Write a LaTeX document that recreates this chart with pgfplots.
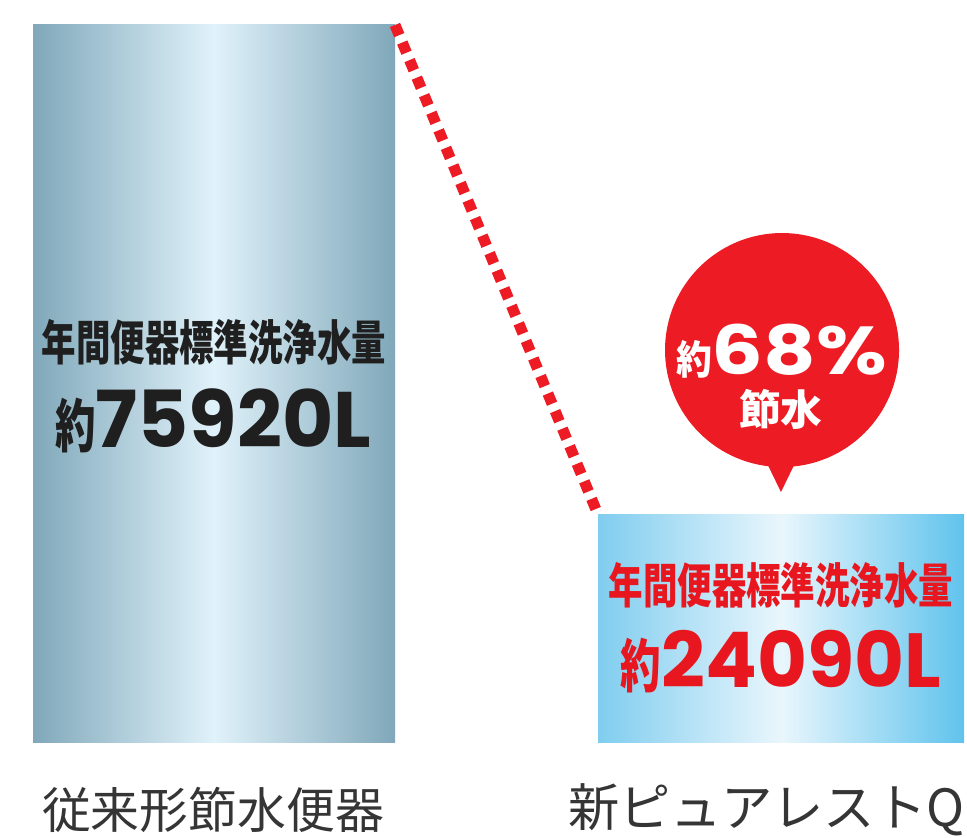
\documentclass[border=0pt]{standalone}
\usepackage{pgfplots}
\pgfplotsset{compat=1.18}
\usepackage{fontspec}
\newfontfamily\cjk{Noto Sans CJK JP}
\newfontfamily\num{Poppins}
\definecolor{grayedge}{HTML}{80A8BA}
\definecolor{graymid}{HTML}{E0F2FA}
\definecolor{blueedgeL}{HTML}{80CDEF}
\definecolor{blueedgeR}{HTML}{60C3ED}
\definecolor{bluemid}{HTML}{E9F6FC}
\definecolor{bubblered}{HTML}{ED1C24}
\definecolor{textred}{HTML}{E8161E}
\definecolor{textdark}{HTML}{1F1F1F}
\begin{document}
\begin{tikzpicture}
\begin{axis}[
  width=967bp, height=837bp, scale only axis,
  xmin=0, xmax=967, ymin=-10059, ymax=78567,
  hide axis,
]
% annual flush water volume (L)
\addplot[ybar, bar width=362, bar shift=0pt, draw=none,
  left color=grayedge, right color=grayedge, middle color=graymid]
  coordinates {(214,75920)};
\addplot[ybar, bar width=366, bar shift=0pt, draw=none,
  left color=blueedgeL, right color=blueedgeR, middle color=bluemid]
  coordinates {(781,24090)};

\draw[bubblered, line width=11bp, dash pattern=on 11bp off 8bp]
  (axis cs:395,75920) -- (axis cs:598,24090);

% bubble
\fill[bubblered] (rel axis cs:0.8087,0.5818) circle (117bp);
\fill[bubblered] (rel axis cs:0.8076,0.4122) -- (rel axis cs:0.7890,0.4564)
  -- (rel axis cs:0.8263,0.4564) -- cycle;
\node[anchor=base, text=white, inner sep=0pt] at (rel axis cs:0.8082,0.5520)
  {\scalebox{0.9}[1]{\cjk\bfseries\fontsize{40}{40}\selectfont 約}%
   \scalebox{1.2}[1]{\num\bfseries\fontsize{68}{68}\selectfont 68\%}};
\node[text=white, inner sep=0pt] at (rel axis cs:0.8076,0.5110)
  {\cjk\bfseries\fontsize{42}{42}\selectfont 節水};

% texts in bars
\node[text=textdark, inner sep=0pt] at (rel axis cs:0.2213,0.5914)
  {\scalebox{0.72}[1]{\cjk\bfseries\fontsize{48}{48}\selectfont 年間便器標準洗浄水量}};
\node[anchor=base, text=textdark, inner sep=0pt] at (rel axis cs:0.2203,0.4648)
  {\scalebox{0.7}[1]{\cjk\bfseries\fontsize{58}{58}\selectfont 約}%
   {\num\bfseries\fontsize{79}{79}\selectfont 75920L}};
\node[text=textred, inner sep=0pt] at (rel axis cs:0.8076,0.3011)
  {\scalebox{0.72}[1]{\cjk\bfseries\fontsize{48}{48}\selectfont 年間便器標準洗浄水量}};
\node[anchor=base, text=textred, inner sep=0pt] at (rel axis cs:0.8076,0.1792)
  {\scalebox{0.7}[1]{\cjk\bfseries\fontsize{58}{58}\selectfont 約}%
   {\num\bfseries\fontsize{77}{77}\selectfont 24090L}};

% category labels
\node[text=textdark!90, inner sep=0pt] at (rel axis cs:0.2203,0.0323)
  {\cjk\fontsize{49}{49}\selectfont 従来形節水便器};
\node[anchor=west, text=textdark!90, inner sep=0pt] at (rel axis cs:0.5874,0.0323)
  {\cjk\fontsize{51.5}{51.5}\selectfont 新ピュアレストQR};
\end{axis}
\pgfresetboundingbox
\path[use as bounding box] (current axis.south west) rectangle (current axis.north east);
\end{tikzpicture}
\end{document}
